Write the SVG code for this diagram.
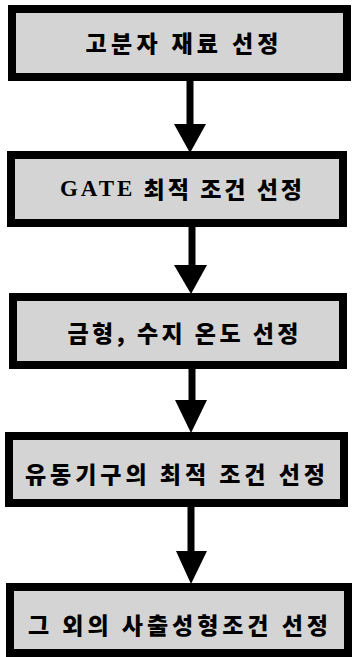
<svg xmlns="http://www.w3.org/2000/svg" width="353" height="657" viewBox="0 0 353 657">
<style>
.box{fill:#d4d4d4;stroke:#000;stroke-width:8}
.lbl{font-family:"Noto Sans CJK KR","Noto Sans",sans-serif;font-weight:900;font-size:23px;fill:#000;text-anchor:middle;dominant-baseline:central}
.lat{font-family:"Liberation Serif",serif;font-weight:bold}
.shaft{stroke:#000;stroke-width:7}
.head{fill:#000}
</style>
<rect width="353" height="657" fill="#fff"/>
<g id="connectors">
<line class="shaft" x1="190" y1="80" x2="190" y2="126"/>
<polygon class="head" points="174,124 206,124 190,153"/>
<line class="shaft" x1="192" y1="226" x2="192" y2="267"/>
<polygon class="head" points="174,265 207,265 191,294"/>
<line class="shaft" x1="192" y1="368" x2="192" y2="402"/>
<polygon class="head" points="175,400 207,400 191,433"/>
<line class="shaft" x1="191" y1="506" x2="191" y2="553"/>
<polygon class="head" points="176,551 207,551 191,584"/>
</g>
<g id="n1">
<rect class="box" x="12" y="9" width="335" height="68"/>
<text class="lbl" x="182" y="42" textLength="193" lengthAdjust="spacing">고분자 재료 선정</text>
</g>
<g id="n2">
<rect class="box" x="11" y="155" width="332" height="68"/>
<text class="lbl" x="181" y="188" textLength="242" lengthAdjust="spacing"><tspan class="lat">GATE</tspan> 최적 조건 선정</text>
</g>
<g id="n3">
<rect class="box" x="13" y="297" width="330" height="68"/>
<text class="lbl" x="183" y="332" textLength="231" lengthAdjust="spacing">금형, 수지 온도 선정</text>
</g>
<g id="n4">
<rect class="box" x="9" y="436" width="335" height="67"/>
<text class="lbl" x="175" y="473" textLength="300" lengthAdjust="spacing">유동기구의 최적 조건 선정</text>
</g>
<g id="n5">
<rect class="box" x="10" y="587" width="338" height="66"/>
<text class="lbl" x="178" y="624" textLength="300" lengthAdjust="spacing">그 외의 사출성형조건 선정</text>
</g>
</svg>
